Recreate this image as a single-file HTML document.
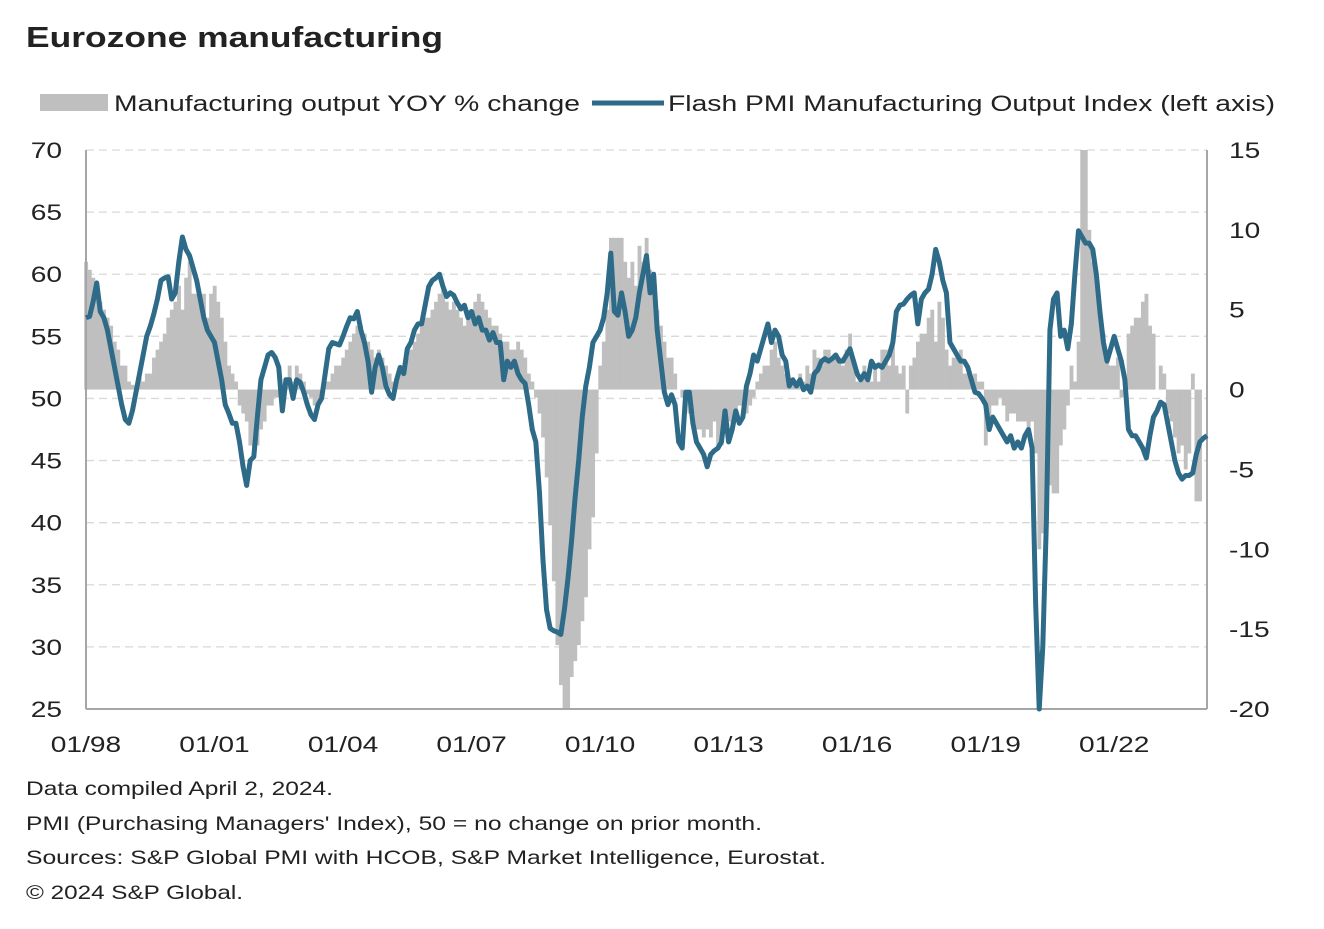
<!DOCTYPE html>
<html><head><meta charset="utf-8">
<style>
body{margin:0;background:#fff;font-family:"Liberation Sans",Arial,sans-serif;}
svg text{font-family:"Liberation Sans",Arial,sans-serif;fill:#222;}
</style></head>
<body>
<svg id="chart" width="1324" height="924" viewBox="0 0 1324 924" xmlns="http://www.w3.org/2000/svg">
<text x="26" y="47" font-size="29" font-weight="bold" data-w="417">Eurozone manufacturing</text>
<g>
<rect x="40" y="94" width="68" height="17" fill="#bfbfbf"/>
<text x="114" y="111" font-size="22.5" data-w="466">Manufacturing output YOY % change</text>
<line x1="592" y1="103" x2="664" y2="103" stroke="#2e6b88" stroke-width="5"/>
<text x="668" y="111" font-size="22.5" data-w="607">Flash PMI Manufacturing Output Index (left axis)</text>
</g>
<g id="grid"></g>
<g id="bars"></g>
<g id="axes"></g>
<path id="pmiline" fill="none" stroke="#2e6b88" stroke-width="5" stroke-linejoin="round"/>
<g font-size="19.5">
<text x="26" y="795" data-w="307">Data compiled April 2, 2024.</text>
<text x="26" y="830" data-w="736">PMI (Purchasing Managers' Index), 50 = no change on prior month.</text>
<text x="26" y="864" data-w="800">Sources: S&amp;P Global PMI with HCOB, S&amp;P Market Intelligence,  Eurostat.</text>
<text x="26" y="899" data-w="217">© 2024 S&amp;P Global.</text>
</g>
</svg>
<script>
const leftTicks=[25,30,35,40,45,50,55,60,65,70];
const rightTicks=[-20,-15,-10,-5,0,5,10,15];
const xLabels=["01/98","01/01","01/04","01/07","01/10","01/13","01/16","01/19","01/22"];
const pmi=[
56.5,56.6,57.8,59.3,57.0,56.5,55.5,54.0,52.5,51.0,49.5,48.3,
48.0,49.0,50.5,52.0,53.5,55.0,55.8,56.8,58.0,59.5,59.7,59.8,
58.0,58.5,61.0,63.0,62.0,61.5,60.5,59.5,58.0,56.5,55.5,55.0,
54.5,53.0,51.5,49.5,48.8,48.0,48.0,46.5,44.5,43.0,45.0,45.3,
48.5,51.5,52.5,53.5,53.7,53.3,52.5,49.0,51.5,51.5,50.0,51.5,
51.3,50.5,49.5,48.7,48.3,49.5,50.0,52.0,54.0,54.5,54.4,54.3,
55.0,55.8,56.5,56.4,57.0,55.5,54.5,53.0,50.5,52.5,53.5,52.5,
51.0,50.3,50.0,51.5,52.5,52.0,54.0,54.5,55.5,56.0,56.0,57.5,
59.0,59.5,59.7,60.0,59.0,58.2,58.5,58.3,57.7,57.2,57.5,56.5,
57.0,56.0,56.5,55.5,55.5,54.7,55.3,54.5,54.5,51.5,53.0,52.5,
53.0,52.0,51.5,51.2,49.5,47.5,46.5,42.5,37.0,33.0,31.5,31.3,
31.2,31.0,33.0,35.5,38.5,42.0,45.0,48.5,51.0,52.5,54.5,55.0,
55.5,56.5,58.5,61.7,57.0,56.7,58.5,57.0,55.0,55.5,56.5,58.5,
60.0,61.5,58.5,60.0,55.5,53.0,50.5,49.5,50.3,49.5,46.5,46.0,
50.5,50.5,48.0,46.5,46.0,45.5,44.5,45.5,45.8,46.0,46.5,49.0,
46.5,47.5,49.0,48.0,48.5,51.0,52.0,53.5,53.0,54.0,55.0,56.0,
54.5,55.5,55.0,53.5,53.0,51.0,51.5,51.0,51.5,50.7,51.0,50.5,
52.0,52.3,53.0,53.2,53.0,53.2,53.5,53.0,53.0,53.5,54.0,53.0,
52.0,51.5,52.0,51.5,53.0,52.5,52.7,52.5,53.0,53.5,54.5,57.0,
57.5,57.6,58.0,58.3,58.5,56.0,58.0,58.5,58.8,60.0,62.0,61.0,
59.5,58.5,54.5,54.0,53.5,53.0,53.0,52.5,51.5,50.5,50.4,50.0,
49.5,47.5,48.5,48.0,47.5,47.0,46.5,47.0,46.0,46.5,46.0,47.0,
47.5,46.0,33.5,18.0,30.0,40.0,55.5,58.0,58.5,55.0,55.5,54.0,
56.0,60.0,63.5,63.0,62.5,62.5,62.0,60.0,57.0,54.5,53.0,54.0,
55.0,54.0,53.0,51.5,47.5,47.0,47.0,46.5,46.0,45.2,47.0,48.5,
49.0,49.7,49.5,48.0,46.5,45.0,44.0,43.5,43.8,43.8,44.0,45.5,
46.5,46.8,47.0];
const yoy=[
8.0,7.5,7.0,6.5,5.5,5.0,4.5,4.0,3.0,2.5,1.5,1.5,
0.5,0.3,-0.3,0.8,0.5,1.0,1.0,2.0,2.5,3.0,3.5,4.5,
5.0,5.5,6.5,5.0,7.0,8.0,6.0,6.0,5.5,6.0,4.5,6.0,
6.5,5.5,4.5,3.0,1.5,1.0,0.5,-1.0,-1.5,-2.0,-3.5,-4.0,
-3.5,-2.5,-2.0,-1.0,-1.0,-0.5,-0.5,-0.3,0.5,1.5,0.5,1.5,
1.0,0.5,-0.3,-0.5,-1.0,-1.0,-0.5,0.5,0.5,1.0,1.5,1.5,
2.0,2.5,3.0,3.5,4.0,4.0,3.5,3.0,2.5,2.0,2.5,2.0,
1.5,1.0,0.5,0.5,1.0,1.5,2.0,2.5,3.0,3.5,4.0,4.5,
4.5,5.0,5.5,6.0,6.5,5.5,5.0,5.5,5.0,4.5,4.0,5.0,
5.0,5.5,6.0,5.5,5.0,4.5,4.0,4.0,3.5,3.0,3.0,2.5,
2.5,3.0,2.5,2.0,1.0,0.5,-0.5,-1.5,-3.0,-5.5,-8.5,-12.0,
-16.0,-18.5,-20.0,-20.0,-18.0,-17.0,-16.0,-14.5,-13.0,-10.0,-8.0,-4.0,
1.5,3.0,5.0,9.5,9.5,9.5,9.5,8.0,7.0,8.0,6.5,9.0,
8.0,9.5,7.5,6.5,5.0,4.0,3.0,2.0,2.0,1.0,0.0,-0.5,
-1.0,-1.5,-1.5,-2.5,-2.5,-3.0,-2.5,-3.0,-2.0,-3.5,-3.5,-2.5,
-2.0,-2.5,-1.5,-1.0,-1.0,-1.5,-1.0,-0.5,0.5,1.0,1.5,1.5,
2.5,3.0,2.0,1.5,1.0,0.5,0.5,0.5,1.0,0.5,1.5,1.0,
2.5,2.0,1.5,2.5,2.5,2.0,2.0,2.0,1.5,2.5,3.5,1.5,
0.5,0.5,1.5,1.0,0.5,1.5,0.5,2.5,2.5,1.5,3.5,1.5,
1.0,1.5,-1.5,1.5,2.0,3.0,3.5,3.5,4.5,5.0,3.0,5.5,
4.5,2.5,1.5,2.0,2.0,2.5,1.0,1.0,0.5,1.0,0.5,0.5,
-3.5,-2.0,-1.0,-1.0,-0.5,-1.0,-2.0,-1.5,-1.5,-2.0,-2.0,-2.0,
-2.5,-2.0,-4.0,-10.0,-9.0,-7.0,-6.0,-6.5,-6.5,-3.5,-2.5,-1.0,
1.5,0.5,3.0,15.0,15.0,10.0,8.0,6.5,4.5,3.5,2.5,1.5,
1.5,2.0,-0.5,0.0,3.5,4.0,4.5,4.5,5.5,6.0,4.0,3.5,
0.0,1.5,1.0,-1.5,-2.0,-3.0,-4.0,-3.5,-5.0,-4.0,1.0,-7.0,
-7.0];

const NS="http://www.w3.org/2000/svg";
const X0=86,X1=1207,YT=150,YB=709,N=315;
const step=(X1-X0)/(N-1);
const xs=i=>X0+i*step;
const yL=v=>YT+(70-v)*(YB-YT)/45;
const yR=v=>YT+(15-v)*(YB-YT)/35;
const clampY=y=>Math.max(YT,Math.min(YB,y));
function mk(tag,attrs,parent){const e=document.createElementNS(NS,tag);for(const k in attrs)e.setAttribute(k,attrs[k]);parent.appendChild(e);return e;}

const grid=document.getElementById('grid');
leftTicks.forEach(v=>{
  if(v!==25){const l=mk('line',{x1:X0,x2:X1,y1:yL(v),y2:yL(v),stroke:'#d9d9d9','stroke-width':1.3,'stroke-dasharray':'8,5'},grid);
  
  }
  const t=mk('text',{x:62,y:yL(v)+8,'font-size':22.5,'text-anchor':'end','data-s':1.25},grid);
  
  
  t.textContent=v;
});
rightTicks.forEach(v=>{
  const t=mk('text',{x:1229,y:yR(v)+8,'font-size':22.5,'data-s':1.25},grid);
  
  
  t.textContent=v;
});
xLabels.forEach((s,k)=>{
  const t=mk('text',{x:xs(k*36),y:752,'font-size':22.5,'text-anchor':'middle','data-s':1.25},grid);
  
  
  t.textContent=s;
});
const bars=document.getElementById('bars');
const y0=yR(0);
yoy.forEach((v,i)=>{
  const y=clampY(yR(v));
  const r=mk('rect',{x:xs(i)-step/2,y:Math.min(y,y0),width:step+0.3,height:Math.abs(y-y0),fill:'#bfbfbf'},bars);
  
  
});
const axes=document.getElementById('axes');
const a1=mk('line',{x1:X0,x2:X0,y1:YT,y2:YB,stroke:'#a6a6a6','stroke-width':2},axes);


const a2=mk('line',{x1:X1,x2:X1,y1:YT,y2:YB,stroke:'#a6a6a6','stroke-width':2},axes);


const a3=mk('line',{x1:X0,x2:X1,y1:YB,y2:YB,stroke:'#a6a6a6','stroke-width':2},axes);


let d='';
pmi.forEach((v,i)=>{d+=(i?'L':'M')+xs(i).toFixed(2)+','+clampY(yL(v)).toFixed(2);});
document.getElementById('pmiline').setAttribute('d',d);
document.querySelectorAll('svg text').forEach(t=>{
  let w=null;
  if(t.hasAttribute('data-w')) w=+t.getAttribute('data-w');
  else if(t.hasAttribute('data-s')) w=t.getComputedTextLength()*(+t.getAttribute('data-s'));
  if(w){t.setAttribute('textLength',w);t.setAttribute('lengthAdjust','spacingAndGlyphs');}
});
</script>
</body></html>
